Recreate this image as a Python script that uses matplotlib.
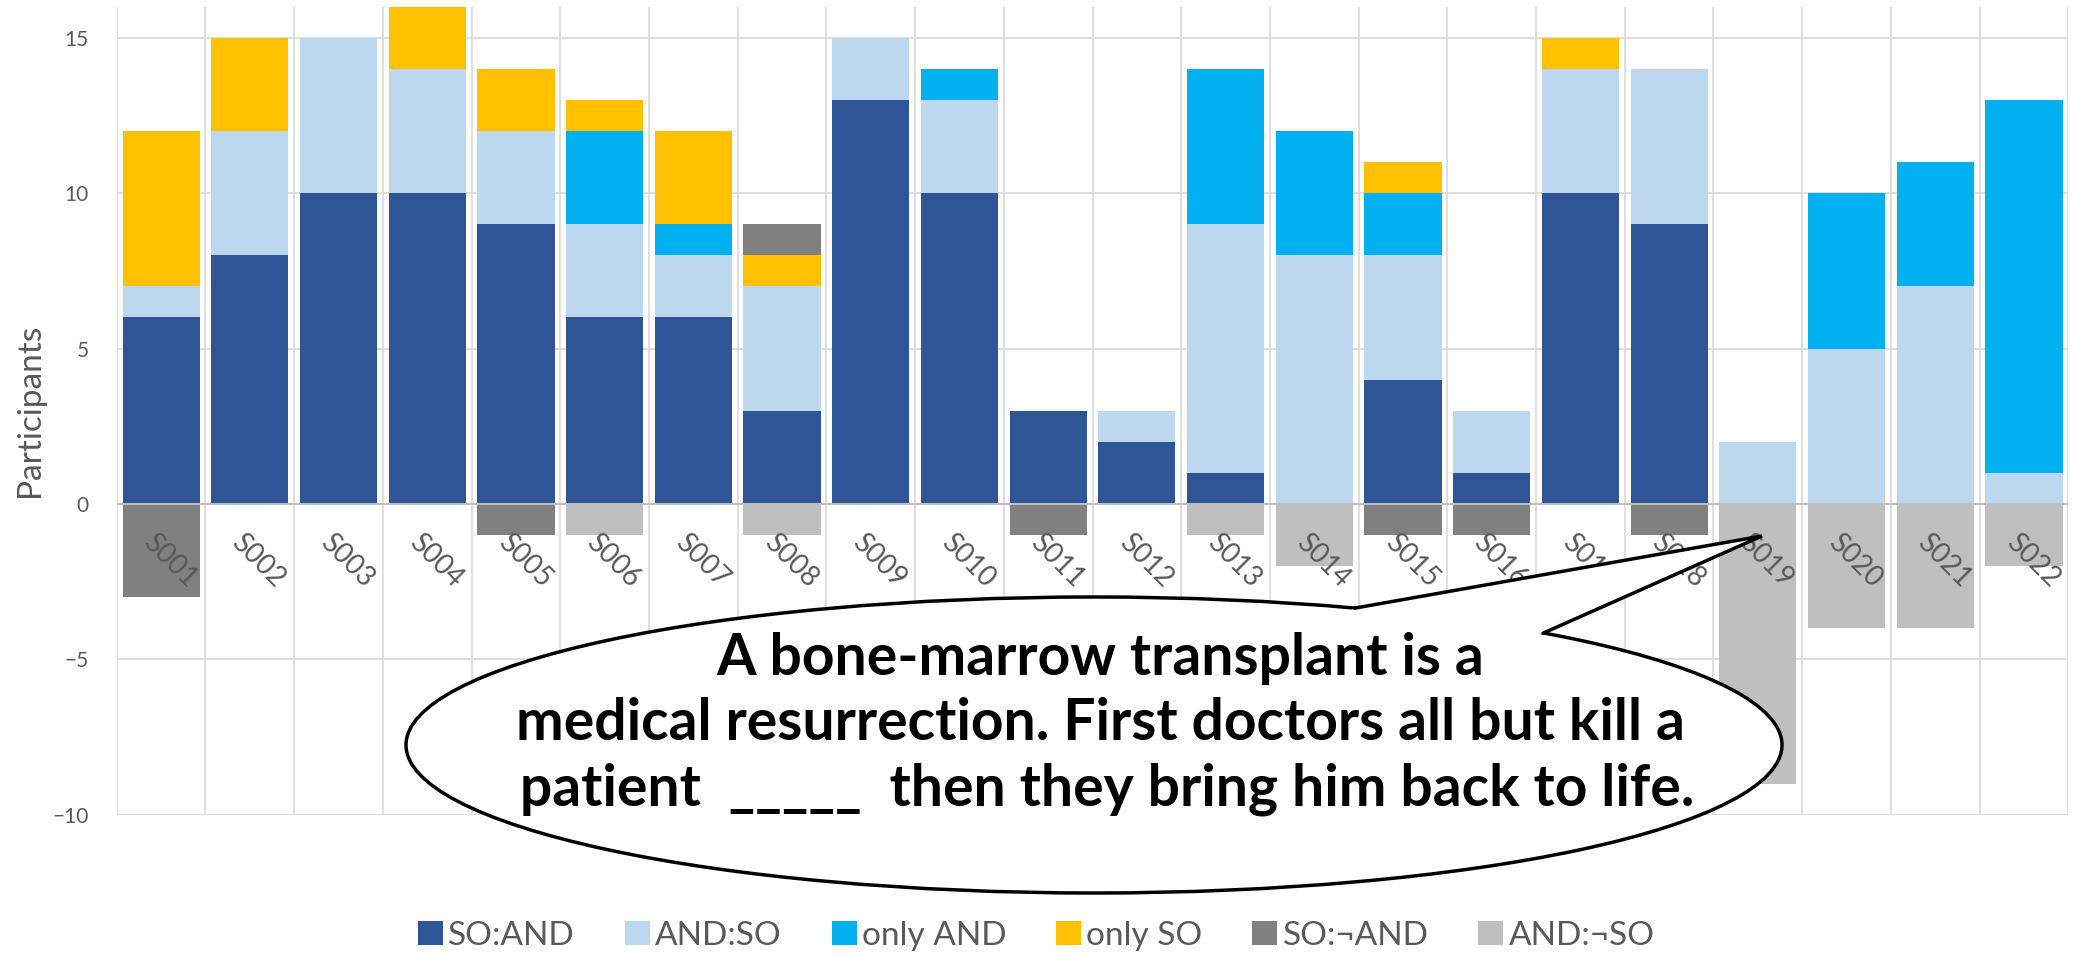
import numpy as np
import matplotlib
matplotlib.use("Agg")
import matplotlib.pyplot as plt
from matplotlib.patches import Ellipse, Polygon

plt.rcParams['font.family'] = ['Lato', 'DejaVu Sans']

# data
categories = [f"S0{i:02d}" for i in range(1, 23)]
series_names = ["SO:AND", "AND:SO", "only AND", "only SO", "SO:\u00acAND", "AND:\u00acSO"]
so_and     = [6, 8, 10, 10, 9, 6, 6, 3, 13, 10, 3, 2, 1, 0, 4, 1, 10, 9, 0, 0, 0, 0]
and_so     = [1, 4, 5, 4, 3, 3, 2, 4, 2, 3, 0, 1, 8, 8, 4, 2, 4, 5, 2, 5, 7, 1]
only_and   = [0, 0, 0, 0, 0, 3, 1, 0, 0, 1, 0, 0, 5, 4, 2, 0, 0, 0, 0, 5, 4, 12]
only_so    = [5, 3, 0, 2, 2, 1, 3, 1, 0, 0, 0, 0, 0, 0, 1, 0, 1, 0, 0, 0, 0, 0]
so_not_and = [-3, 0, 0, 0, -1, 0, 0, 1, 0, 0, -1, 0, 0, 0, -1, -1, 0, -1, 0, 0, 0, 0]
and_not_so = [0, 0, 0, 0, 0, -1, 0, -1, 0, 0, 0, 0, -1, -2, 0, 0, 0, 0, -9, -4, -4, -2]
colors = ["#2F5597", "#BDD7EE", "#00B0F0", "#FFC000", "#808080", "#BFBFBF"]

bubble_lines = ["A bone-marrow transplant is a",
                "medical resurrection. First doctors all but kill a",
                " patient  _____  then they bring him back to life."]

W, H = 2085, 955
fig = plt.figure(figsize=(W / 100, H / 100), dpi=100)
ax = fig.add_axes([0.056, 0.147, 0.936, 0.846])

x = np.arange(len(categories))
pos_bottom = np.zeros(len(categories))
neg_bottom = np.zeros(len(categories))
all_series = [so_and, and_so, only_and, only_so, so_not_and, and_not_so]
for name, vals, col in zip(series_names, all_series, colors):
    vals = np.array(vals, dtype=float)
    bottoms = np.where(vals >= 0, pos_bottom, neg_bottom)
    ax.bar(x, vals, bottom=bottoms, width=0.87, color=col, label=name, zorder=2)
    pos_bottom += np.clip(vals, 0, None)
    neg_bottom += np.clip(vals, None, 0)

ax.set_xlim(-0.5, len(categories) - 0.5)
ax.set_ylim(-10, 16)
ax.set_yticks([-10, -5, 0, 5, 10, 15])
ax.set_xticks([])
ax.tick_params(axis='y', length=0, pad=20, labelsize=15, labelcolor="#595959")
for s in ax.spines.values():
    s.set_visible(False)
for yv in [-10, -5, 5, 10, 15]:
    ax.axhline(yv, color="#D9D9D9", lw=1.2, zorder=0)
for xv in np.arange(-0.5, len(categories), 1.0):
    ax.axvline(xv, color="#D9D9D9", lw=1.2, zorder=0)
ax.axhline(0, color="#BFBFBF", lw=1.5, zorder=3)
ax.set_ylabel("Participants", fontsize=24, color="#595959")
ax.yaxis.set_label_coords(-0.037, 0.5)

# rotated category labels sit just under the zero line, as in Excel
for i, c in enumerate(categories):
    ax.text(i - 0.05, -0.8, c, rotation=-45, rotation_mode='anchor',
            ha='left', va='top', fontsize=20, color="#595959", zorder=4)

leg = fig.legend(loc='center', bbox_to_anchor=(0.497, 0.02), ncol=6, frameon=False,
                 fontsize=24, handlelength=0.75, handleheight=0.75, handletextpad=0.15,
                 columnspacing=1.5, labelcolor="#595959", borderaxespad=0, borderpad=0)

# speech bubble overlay in pixel coordinates
ov = fig.add_axes([0, 0, 1, 1], zorder=10)
ov.set_xlim(0, W)
ov.set_ylim(H, 0)
ov.axis('off')
cx, cy, a, b = 1094, 745, 688, 148
ov.add_patch(Ellipse((cx, cy), 2 * a, 2 * b, facecolor='white', edgecolor='black', lw=2.5))
tip = (1762, 536)
t1, t2 = np.deg2rad(67.7), np.deg2rad(49.2)
p1 = (cx + a * np.cos(t1), cy - b * np.sin(t1))
p2 = (cx + a * np.cos(t2), cy - b * np.sin(t2))
inner1 = (cx + 0.9 * a * np.cos(t1), cy - 0.9 * b * np.sin(t1))
inner2 = (cx + 0.9 * a * np.cos(t2), cy - 0.9 * b * np.sin(t2))
ov.add_patch(Polygon([inner1, p1, tip, p2, inner2], closed=True, facecolor='white', edgecolor='none'))
ov.plot([p1[0], tip[0], p2[0]], [p1[1], tip[1], p2[1]], color='black', lw=2.5, solid_joinstyle='miter')

baselines = [675, 740, 805]
for line, yb in zip(bubble_lines, baselines):
    ov.text(1100, yb, line, ha='center', va='baseline', fontsize=41,
            fontweight='bold', color='black')

fig.savefig("out.png", dpi=100)
